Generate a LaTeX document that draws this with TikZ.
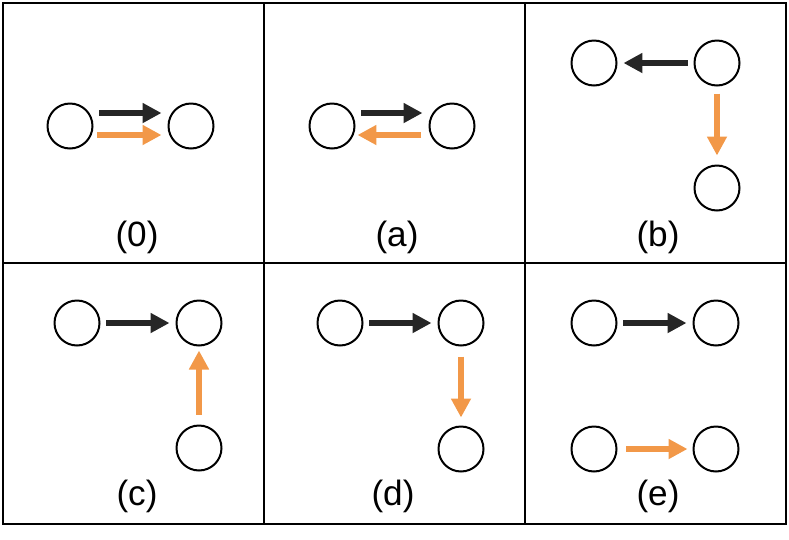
\documentclass[tikz,border=0pt]{standalone}
\usepackage{fontspec}
\setmainfont{Liberation Sans}
\usetikzlibrary{arrows.meta}

\definecolor{edgeblack}{RGB}{38,38,38}
\definecolor{edgeorange}{RGB}{242,152,72}

\begin{document}
\begin{tikzpicture}[x=0.02cm,y=-0.02cm]
\tikzset{
  graphnode/.style={circle,draw=black,line width=0.04cm,minimum size=0.9cm,inner sep=0pt},
  graphedge/.style={line width=0.12cm,shorten <=0.12cm,shorten >=0.12cm},
  blackedge/.style={graphedge,draw=edgeblack,-{Triangle[length=0.38cm,width=0.38cm,fill=edgeblack]}},
  orangeedge/.style={graphedge,draw=edgeorange,-{Triangle[length=0.38cm,width=0.38cm,fill=edgeorange]}},
  panellabel/.style={anchor=base,inner sep=0pt,font=\fontsize{20pt}{24pt}\selectfont},
  gridline/.style={draw=black,line width=0.04cm}
}
\useasboundingbox (0,0) rectangle (789,539);
% panel frame
\draw[gridline] (3,3) rectangle (786,524);
\draw[gridline] (3,263) -- (786,263);
\draw[gridline] (264,3) -- (264,524);
\draw[gridline] (525,3) -- (525,524);
% (0)
\node[graphnode] (p0_A) at (70,126) {};
\node[graphnode] (p0_B) at (191,126) {};
\draw[blackedge] ([yshift=0.26cm]p0_A.east) -- ([yshift=0.26cm]p0_B.west);
\draw[orangeedge,shorten <=0.08cm] ([yshift=-0.18cm]p0_A.east) -- ([yshift=-0.18cm]p0_B.west);
\node[panellabel] (l_0) at (137,246) {(0)};
% (a)
\node[graphnode] (pa_A) at (332,126) {};
\node[graphnode] (pa_B) at (452,126) {};
\draw[blackedge] ([yshift=0.26cm]pa_A.east) -- ([yshift=0.26cm]pa_B.west);
\draw[orangeedge,shorten <=0.15cm,shorten >=0.04cm] ([yshift=-0.18cm]pa_B.west) -- ([yshift=-0.18cm]pa_A.east);
\node[panellabel] (l_a) at (397,246) {(a)};
% (b)
\node[graphnode] (pb_A) at (594,63) {};
\node[graphnode] (pb_B) at (717,63) {};
\node[graphnode] (pb_C) at (717,188) {};
\draw[blackedge] (pb_B) -- (pb_A);
\draw[orangeedge,shorten <=0.14cm,shorten >=0.18cm] (pb_B) -- (pb_C);
\node[panellabel] (l_b) at (658,246) {(b)};
% (c)
\node[graphnode] (pc_A) at (77,323) {};
\node[graphnode] (pc_B) at (199,323) {};
\node[graphnode] (pc_C) at (199,448) {};
\draw[blackedge] (pc_A) -- (pc_B);
\draw[orangeedge,shorten <=0.2cm,shorten >=0.08cm] (pc_C) -- (pc_B);
\node[panellabel] (l_c) at (137,505) {(c)};
% (d)
\node[graphnode] (pd_A) at (340,323) {};
\node[graphnode] (pd_B) at (461,323) {};
\node[graphnode] (pd_C) at (461,449) {};
\draw[blackedge] (pd_A) -- (pd_B);
\draw[orangeedge,shorten <=0.2cm,shorten >=0.16cm] (pd_B) -- (pd_C);
\node[panellabel] (l_d) at (393,505) {(d)};
% (e)
\node[graphnode] (pe_A) at (594,323) {};
\node[graphnode] (pe_B) at (716,323) {};
\node[graphnode] (pe_C) at (594,449) {};
\node[graphnode] (pe_D) at (716,449) {};
\draw[blackedge] (pe_A) -- (pe_B);
\draw[orangeedge,shorten <=0.18cm,shorten >=0.1cm] (pe_C) -- (pe_D);
\node[panellabel] (l_e) at (658,505) {(e)};
\end{tikzpicture}
\end{document}
